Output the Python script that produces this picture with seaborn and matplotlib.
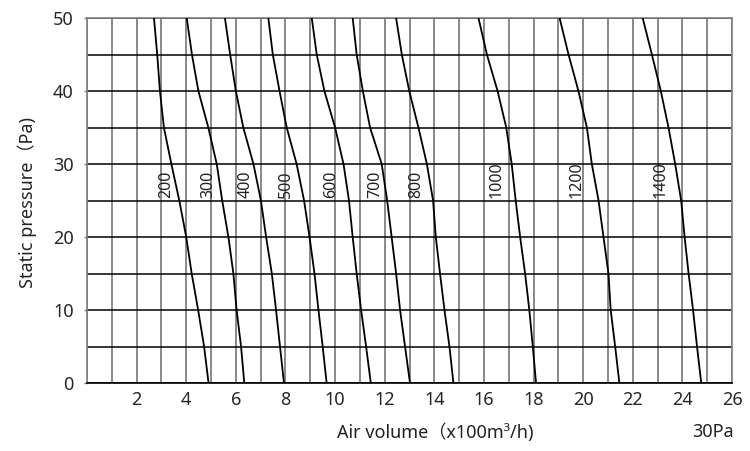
import matplotlib

matplotlib.use("Agg")
import matplotlib.pyplot as plt
import numpy as np
import pandas as pd
import seaborn as sns

# static pressure levels (Pa) at which each curve was read
PRESSURE = [50, 45, 40, 35, 30, 25, 20, 15, 10, 5, 0]

# air volume (x100 m3/h) for each fan size, same order as PRESSURE
VOL_200 = [2.70, 2.83, 2.94, 3.10, 3.40, 3.72, 4.00, 4.22, 4.48, 4.72, 4.90]
VOL_300 = [4.02, 4.23, 4.49, 4.89, 5.23, 5.45, 5.70, 5.90, 6.03, 6.21, 6.34]
VOL_400 = [5.56, 5.77, 6.00, 6.30, 6.71, 7.01, 7.22, 7.45, 7.62, 7.78, 7.94]
VOL_500 = [7.31, 7.49, 7.76, 8.05, 8.45, 8.75, 8.97, 9.17, 9.33, 9.50, 9.66]
VOL_600 = [9.06, 9.26, 9.57, 10.00, 10.34, 10.56, 10.71, 10.87, 11.05, 11.25, 11.44]
VOL_700 = [10.71, 10.87, 11.12, 11.41, 11.88, 12.10, 12.28, 12.46, 12.62, 12.82, 13.02]
VOL_800 = [12.46, 12.69, 12.99, 13.36, 13.70, 13.95, 14.06, 14.23, 14.41, 14.61, 14.77]
VOL_1000 = [15.78, 16.12, 16.55, 16.90, 17.12, 17.28, 17.46, 17.66, 17.83, 17.97, 18.10]
VOL_1200 = [19.05, 19.41, 19.81, 20.15, 20.35, 20.62, 20.82, 21.02, 21.11, 21.29, 21.46]
VOL_1400 = [22.40, 22.77, 23.13, 23.44, 23.71, 23.95, 24.09, 24.25, 24.43, 24.59, 24.76]

CURVE_NAMES = ["200", "300", "400", "500", "600", "700", "800", "1000", "1200", "1400"]
CURVE_VOLS = [VOL_200, VOL_300, VOL_400, VOL_500, VOL_600, VOL_700, VOL_800,
              VOL_1000, VOL_1200, VOL_1400]
LABEL_X = [3.19, 4.87, 6.40, 8.02, 9.86, 11.60, 13.27, 16.52, 19.74, 23.10]
LABEL_Y = 25.3

X_TICKS = list(range(2, 27, 2))
Y_TICKS = list(range(0, 51, 10))


def main() -> None:
    sns.set_theme(style="white")
    plt.rcParams["font.family"] = ["Noto Sans", "Noto Sans CJK SC", "DejaVu Sans"]

    rows = []
    for name, vols in zip(CURVE_NAMES, CURVE_VOLS):
        for v, p in zip(vols, PRESSURE):
            rows.append({"curve": name, "volume": v, "pressure": p})
    df = pd.DataFrame(rows)

    fig = plt.figure(figsize=(7.5, 4.51), dpi=100)
    ax = fig.add_axes([87 / 750, 1 - 383 / 451, 645 / 750, 365 / 451])

    # grid: grey verticals every 1, black horizontals every 5
    for xv in range(0, 27):
        ax.axvline(xv, color="#808080", linewidth=1.3, zorder=1)
    for yv in range(0, 51, 5):
        ax.axhline(yv, color="black", linewidth=1.1, zorder=1)

    sns.lineplot(data=df, x="volume", y="pressure", units="curve", estimator=None,
                 sort=False, color="black", linewidth=1.3, ax=ax, zorder=3)

    for name, lx in zip(CURVE_NAMES, LABEL_X):
        ax.text(lx, LABEL_Y, name, rotation=90, ha="center", va="bottom",
                fontsize=11.5, color="#222222", zorder=4)

    ax.set_xlim(0, 26)
    ax.set_ylim(0, 50)
    ax.set_xticks(X_TICKS)
    ax.set_yticks(Y_TICKS)
    ax.tick_params(axis="x", length=0, pad=6, labelsize=13)
    ax.tick_params(axis="y", length=2.5, width=1, color="#808080", pad=7, labelsize=13,
                   left=True)
    ax.set_xlabel("")
    ax.set_ylabel("")
    for side in ["top", "right", "left"]:
        ax.spines[side].set_color("#808080")
        ax.spines[side].set_linewidth(1.2)
    ax.spines["bottom"].set_color("black")
    ax.spines["bottom"].set_linewidth(1.2)

    fig.text(435 / 750, 1 - 433 / 451, "Air volume（x100m³/h)", ha="center",
             va="center", fontsize=13, color="#222222")
    fig.text(713 / 750, 1 - 432 / 451, "30Pa", ha="center", va="center",
             fontsize=13, color="#222222")
    fig.text(27 / 750, 1 - 203 / 451, "Static pressure（Pa)", ha="center",
             va="center", rotation=90, fontsize=13, color="#222222")

    fig.savefig("out.png", dpi=100)
    plt.close(fig)


if __name__ == "__main__":
    main()
